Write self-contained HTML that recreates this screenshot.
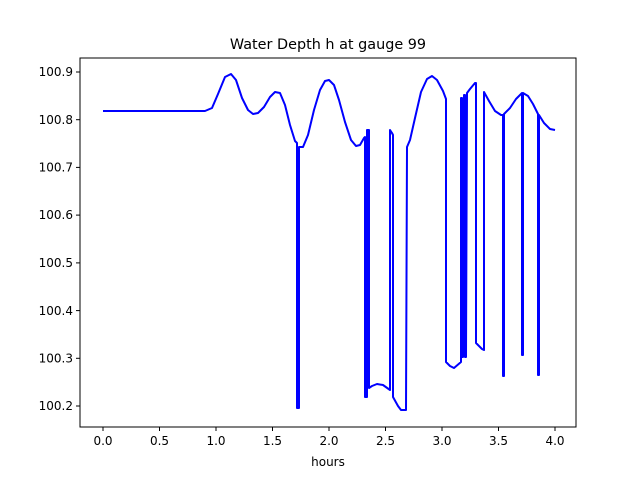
<!DOCTYPE html>
<html><head><style>body{margin:0;background:#fff}svg{display:block}</style></head><body>
<svg width="640" height="480" xmlns="http://www.w3.org/2000/svg" font-family="DejaVu Sans, Liberation Sans, sans-serif">
<rect width="640" height="480" fill="#fff"/>
<text x="328" y="49" font-size="14.4" text-anchor="middle">Water Depth h at gauge 99</text>
<polyline fill="none" stroke="#0000ff" stroke-width="2" stroke-linejoin="round" points="
103,111 205,111 212,108 218,94 225,77 231,74 236,80 242,98 248,110 253,114 258,113 264,107 270,97 275,92 280,93 285,105 290,125 295,141 297,143 297,408 299,408 299,147 303,147 308,135 314,110 320,90 325,81 329,80 334,85 339,100 345,122 351,140 356,146 360,145 364,138 365,137 365,397 367,397 367,130 369,130 369,388 372,386 377,384 383,385 390,390 390,130 392,133 393,135 393,397 398,406 401,410 406,410 407,147 410,140 415,118 421,92 427,79 432,76 437,80 443,91 446,99 446,362 450,366 454,368 461,362 461,98 462,98 462,357 463,357 464,95 465,95 465,357 466,357 467,93 470,89 475,83 476,83 476,343 482,349 484,350 484,92 489,101 495,111 501,115 503,115 503,376 504,376 504,114 510,108 516,99 522,93 522,355 523,355 523,93 528,96 533,104 538,114 538,375 539,375 539,115 544,123 550,129 555,130"/>
<rect x="80" y="58" width="496" height="369" fill="none" stroke="#000" stroke-width="1"/>
<g stroke="#000" stroke-width="1">
<line x1="103" y1="427" x2="103" y2="431"/><line x1="159.5" y1="427" x2="159.5" y2="431"/><line x1="216" y1="427" x2="216" y2="431"/><line x1="272.5" y1="427" x2="272.5" y2="431"/><line x1="329" y1="427" x2="329" y2="431"/><line x1="385.5" y1="427" x2="385.5" y2="431"/><line x1="442" y1="427" x2="442" y2="431"/><line x1="498.5" y1="427" x2="498.5" y2="431"/><line x1="555" y1="427" x2="555" y2="431"/>
<line x1="76" y1="72" x2="80" y2="72"/><line x1="76" y1="119.7" x2="80" y2="119.7"/><line x1="76" y1="167.4" x2="80" y2="167.4"/><line x1="76" y1="215.1" x2="80" y2="215.1"/><line x1="76" y1="262.9" x2="80" y2="262.9"/><line x1="76" y1="310.6" x2="80" y2="310.6"/><line x1="76" y1="358.3" x2="80" y2="358.3"/><line x1="76" y1="406" x2="80" y2="406"/>
</g>
<g font-size="12" text-anchor="middle">
<text x="103" y="445">0.0</text><text x="159.5" y="445">0.5</text><text x="216" y="445">1.0</text><text x="272.5" y="445">1.5</text><text x="329" y="445">2.0</text><text x="385.5" y="445">2.5</text><text x="442" y="445">3.0</text><text x="498.5" y="445">3.5</text><text x="555" y="445">4.0</text>
<text x="328" y="466">hours</text>
</g>
<g font-size="12" text-anchor="end">
<text x="73" y="76">100.9</text><text x="73" y="124">100.8</text><text x="73" y="171.5">100.7</text><text x="73" y="219">100.6</text><text x="73" y="267">100.5</text><text x="73" y="315">100.4</text><text x="73" y="362.5">100.3</text><text x="73" y="410">100.2</text>
</g>
</svg>
</body></html>
